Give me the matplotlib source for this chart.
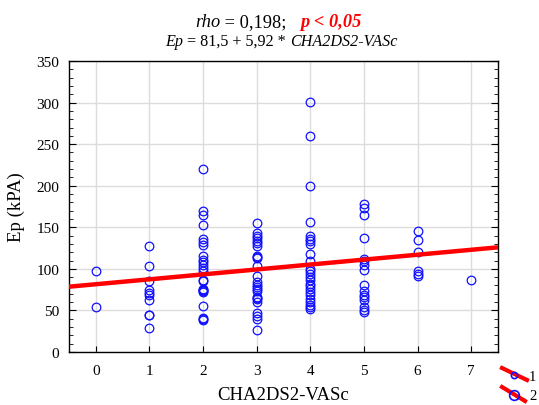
import matplotlib
matplotlib.use('Agg')
import matplotlib.pyplot as plt
import numpy as np
from matplotlib.lines import Line2D

plt.rcParams['font.family'] = ['Liberation Serif', 'DejaVu Serif']

# ---- data (Ep, kPa) by CHA2DS2-VASc score ----
score_0 = [98, 54]
score_1 = [127, 103, 85, 74, 71, 68, 62, 45, 44, 29]
score_2 = [220, 170, 165, 153, 136, 132, 129, 115, 111, 108, 105, 101, 98, 87, 85,
           76, 75, 74, 73, 72, 55, 41, 40, 39]
score_3 = [155, 143, 140, 137, 134, 131, 127, 115, 114, 113, 104, 92, 84, 81, 78, 76,
           73, 66, 65, 64, 60, 47, 43, 40, 26]
score_4 = [301, 260, 200, 156, 139, 136, 133, 130, 118, 109, 100, 97, 94, 90, 86, 82,
           79, 76, 72, 68, 64, 60, 57, 54, 52]
score_5 = [178, 173, 165, 137, 112, 109, 105, 99, 81, 73, 69, 66, 62, 54, 51, 48]
score_6 = [146, 135, 120, 97, 94, 91]
score_7 = [87]
scores = [score_0, score_1, score_2, score_3, score_4, score_5, score_6, score_7]

intercept = 81.5
slope = 5.92
x_ticks = [0, 1, 2, 3, 4, 5, 6, 7]
y_ticks = [0, 50, 100, 150, 200, 250, 300, 350]

W, H = 539, 406
fig = plt.figure(figsize=(W / 100, H / 100), dpi=100)
ax = fig.add_axes([69 / W, 53 / H, 429 / W, 291 / H])

xs, ys = [], []
for s, vals in zip(x_ticks, scores):
    xs += [s] * len(vals)
    ys += vals
ax.plot(xs, ys, linestyle='none', marker='o', ms=6.2, mfc='none', mec='#1010ff',
        mew=0.9, zorder=3)

xl = np.array([-0.5, 7.5])
ax.plot(xl, intercept + slope * xl, color='#ff0000', lw=3.2, zorder=4,
        solid_capstyle='butt')

ax.set_xlim(-0.5, 7.5)
ax.set_ylim(0, 350)
ax.set_xticks(x_ticks)
ax.set_yticks(y_ticks)
ax.set_yticks(np.arange(0, 351, 10), minor=True)
ax.grid(True, color='#dcdcdc', lw=1.0, zorder=0)
ax.set_axisbelow(True)
ax.tick_params(which='both', direction='in', left=True, right=True, top=False,
               bottom=True, labelsize=11, colors='black')
ax.tick_params(axis='y', which='major', length=5, pad=7)
ax.tick_params(axis='y', which='minor', length=3)
ax.tick_params(axis='x', which='major', length=4, pad=9)
for sp in ax.spines.values():
    sp.set_linewidth(1.0)
    sp.set_color('black')

ax.set_xlabel('CHA2DS2-VASc', fontsize=13.5, labelpad=6)
ax.set_ylabel('Ep (kPA)', fontsize=13.5, labelpad=8)

# ---- title pieces ----
def rich_line(pieces, x0, y_base):
    fig.canvas.draw()
    r = fig.canvas.get_renderer()
    x = x0
    for txt, kw in pieces:
        t = fig.text(x / W, 1 - y_base / H, txt, va='baseline', ha='left', **kw)
        bb = t.get_window_extent(renderer=r)
        x += bb.width

rich_line([('rho', dict(style='italic', fontsize=13.2)),
           (' = 0,198;   ', dict(fontsize=13.2)),
           ('p < 0,05', dict(style='italic', weight='bold', color='#ff0000', fontsize=13.2))],
          195, 27)
rich_line([('Ep', dict(style='italic', fontsize=11.6)),
           (' = 81,5 + 5,92 * ', dict(fontsize=11.6)),
           ('CHA2DS2-VASc', dict(style='italic', fontsize=11.6))],
          165, 46)

# ---- partial legend at bottom right ----
for (x1, y1, x2, y2, cx, cy, ms, lab, ty) in [
        (502, 369, 527, 381, 514, 376, 4.5, '1', 378),
        (502, 388, 525, 402, 514, 396, 7.0, '2', 397)]:
    fig.add_artist(Line2D([x1 / W, x2 / W], [1 - y1 / H, 1 - y2 / H],
                          transform=fig.transFigure, color='#ff0000', lw=3))
    fig.add_artist(Line2D([cx / W], [1 - cy / H], transform=fig.transFigure,
                          marker='o', ms=ms, mfc='none', mec='#1010ff', mew=1.2,
                          linestyle='none'))
    fig.text(529 / W, 1 - ty / H, lab, fontsize=10.5, va='center', ha='left')

fig.savefig('out.png', dpi=100)
